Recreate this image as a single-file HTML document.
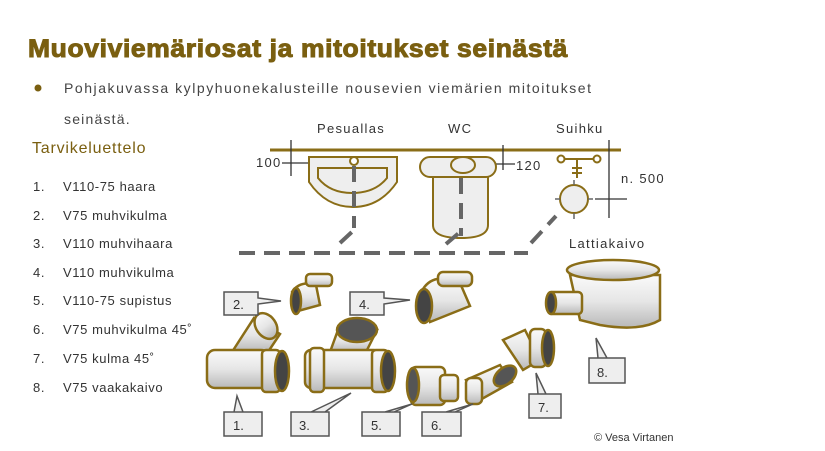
<!DOCTYPE html>
<html><head><meta charset="utf-8"><style>
body{margin:0;background:#fff;}
svg{display:block;font-family:"Liberation Sans",sans-serif;}
</style></head><body>
<svg width="825" height="451" viewBox="0 0 825 451" xmlns="http://www.w3.org/2000/svg">
<defs>
<linearGradient id="pg" x1="0" y1="0" x2="0" y2="1"><stop offset="0" stop-color="#fafafa"/><stop offset="0.5" stop-color="#e6e6e6"/><stop offset="1" stop-color="#b8b8b8"/></linearGradient>
</defs>
<text x="28" y="57" font-size="25" letter-spacing="0.6" font-weight="bold" fill="#7a5f10" stroke="#7a5f10" stroke-width="1" textLength="540" lengthAdjust="spacingAndGlyphs">Muoviviemäriosat ja mitoitukset seinästä</text>
<circle cx="38" cy="88" r="3.5" fill="#7a5f10"/>
<g font-size="14" fill="#444">
<text x="64" y="93" textLength="527" lengthAdjust="spacing">Pohjakuvassa kylpyhuonekalusteille nousevien viemärien mitoitukset</text>
<text x="64" y="124" letter-spacing="1.2">seinästä.</text>
</g>
<text x="32" y="153" font-size="16" fill="#7a5f10" letter-spacing="0.8">Tarvikeluettelo</text>
<g font-size="13" fill="#333" letter-spacing="0.6">
<text x="33" y="191">1.</text><text x="63" y="191">V110-75 haara</text>
<text x="33" y="220">2.</text><text x="63" y="220">V75 muhvikulma</text>
<text x="33" y="248">3.</text><text x="63" y="248">V110 muhvihaara</text>
<text x="33" y="277">4.</text><text x="63" y="277">V110 muhvikulma</text>
<text x="33" y="305">5.</text><text x="63" y="305">V110-75 supistus</text>
<text x="33" y="334">6.</text><text x="63" y="334">V75 muhvikulma 45˚</text>
<text x="33" y="363">7.</text><text x="63" y="363">V75 kulma 45˚</text>
<text x="33" y="392">8.</text><text x="63" y="392">V75 vaakakaivo</text>
</g>
<!-- plan -->
<g font-size="13" fill="#333" letter-spacing="1.3">
<text x="317" y="133">Pesuallas</text><text x="448" y="133">WC</text><text x="556" y="133">Suihku</text>
<text x="256" y="167">100</text><text x="516" y="170">120</text><text x="621" y="183">n. 500</text>
<text x="569" y="248">Lattiakaivo</text>
</g>
<line x1="270" y1="150" x2="621" y2="150" stroke="#8a6d17" stroke-width="3"/>
<g stroke="#333" stroke-width="1.3" fill="none">
<line x1="291" y1="140" x2="291" y2="176"/><line x1="282" y1="163" x2="335" y2="163"/>
<line x1="503" y1="145" x2="503" y2="170"/><line x1="465" y1="164" x2="515" y2="164"/>
<line x1="609" y1="140" x2="609" y2="218"/><line x1="595" y1="199" x2="627" y2="199"/>
</g>
<g fill="#eee" stroke="#8a6d17" stroke-width="2">
<path d="M309 157 H397 V182 Q380 207 353 207 Q326 207 309 182 Z"/>
<path d="M318 168 H387 V178 Q375 193 352 193 Q330 193 318 178 Z"/>
<circle cx="354" cy="161" r="4" fill="#fff"/>
<path d="M433 175 H488 V225 Q488 238 461 238 Q433 238 433 225 Z"/>
<rect x="420" y="157" width="76" height="20" rx="10"/>
<ellipse cx="463" cy="165" rx="12" ry="8"/>
<circle cx="574" cy="199" r="14"/>
<circle cx="561" cy="159" r="3.5" fill="#fff"/><circle cx="597" cy="159" r="3.5" fill="#fff"/>
</g>
<g stroke="#8a6d17" stroke-width="2"><line x1="565" y1="159" x2="593" y2="159"/><line x1="577" y1="159" x2="577" y2="178"/><line x1="572" y1="168" x2="582" y2="168"/><line x1="572" y1="173" x2="582" y2="173"/></g>
<g stroke="#666" stroke-width="1.5"><line x1="574" y1="180" x2="574" y2="185"/><line x1="574" y1="213" x2="574" y2="219"/><line x1="555" y1="199" x2="560" y2="199"/><line x1="588" y1="199" x2="593" y2="199"/></g>
<g stroke="#666" stroke-width="4" fill="none" stroke-dasharray="16,9">
<line x1="354" y1="166" x2="354" y2="228"/>
<line x1="461" y1="178" x2="461" y2="236"/>
<line x1="239" y1="253" x2="528" y2="253"/>
<line x1="340" y1="243" x2="354" y2="230"/>
<line x1="446" y1="244" x2="460" y2="232"/>
<line x1="531" y1="243" x2="556" y2="216"/>
</g>
<!-- fittings -->
<g fill="url(#pg)" stroke="#8a6d17" stroke-width="2.5">
<!-- 1 -->
<path d="M232 352 L254 318 L280 334 L268 352 Z"/>
<ellipse cx="266" cy="326" rx="10" ry="14" transform="rotate(-35 266 326)"/>
<rect x="207" y="350" width="62" height="38" rx="8"/>
<rect x="262" y="350" width="18" height="42" rx="4"/>
<ellipse cx="282" cy="371" rx="7" ry="20" fill="#444"/>
<!-- 3 -->
<path d="M330 352 L338 330 L377 330 L366 352 Z"/>
<ellipse cx="357" cy="330" rx="20" ry="12" fill="#555"/>
<rect x="305" y="350" width="75" height="38" rx="6"/>
<rect x="310" y="348" width="14" height="44" rx="4"/>
<rect x="372" y="350" width="16" height="42" rx="4"/>
<ellipse cx="388" cy="371" rx="7" ry="20" fill="#444"/>
<!-- 2 -->
<path d="M292 292 Q300 280 316 285 L320 305 L298 311 Z"/>
<ellipse cx="296" cy="301" rx="5" ry="13" fill="#444"/>
<rect x="306" y="274" width="26" height="12" rx="4"/>
<!-- 4 -->
<path d="M420 295 Q430 270 460 283 L470 306 L430 322 Z"/>
<rect x="438" y="272" width="34" height="14" rx="5"/>
<ellipse cx="424" cy="306" rx="8" ry="17" fill="#444"/>
<!-- 5 -->
<rect x="411" y="367" width="34" height="38" rx="5"/>
<rect x="440" y="375" width="18" height="26" rx="4"/>
<ellipse cx="413" cy="385" rx="6" ry="17" fill="#555"/>
<!-- 6 -->
<path d="M466 380 L500 365 L512 382 L480 400 Z"/>
<rect x="466" y="378" width="16" height="26" rx="5"/>
<ellipse cx="505" cy="376" rx="13" ry="8" transform="rotate(-40 505 376)" fill="#555"/>
<!-- 7 -->
<path d="M503 340 L525 330 L540 360 L523 370 Z"/>
<rect x="530" y="329" width="16" height="38" rx="5"/>
<ellipse cx="548" cy="348" rx="6" ry="18" fill="#444"/>
<!-- 8 -->
<path d="M570 275 L660 275 L660 320 Q640 332 600 325 L580 320 Z"/>
<ellipse cx="613" cy="270" rx="46" ry="10"/>
<rect x="548" y="292" width="34" height="22" rx="4"/>
<ellipse cx="551" cy="303" rx="5" ry="11" fill="#444"/>
</g>
<!-- callouts -->
<g fill="#eee" stroke="#555" stroke-width="1.5">
<path d="M224 292 H258 V298 L281 301 L258 304 V315 H224 Z"/>
<path d="M350 292 H384 V298 L410 300 L384 304 V315 H350 Z"/>
<path d="M224 412 H262 V436 H224 V412 Z M234 412 L237 396 L243 412"/>
<path d="M291 412 H329 V436 H291 Z M311 412 L351 393 L325 412"/>
<path d="M362 412 H400 V436 H362 Z M385 412 L412 404 L394 412"/>
<path d="M422 412 H461 V436 H422 Z M446 412 L473 404 L455 412"/>
<path d="M529 394 H561 V418 H529 Z M538 394 L536 373 L546 394"/>
<path d="M589 358 H625 V383 H589 Z M598 358 L596 338 L607 358"/>
</g>
<g stroke="#eee" stroke-width="2"><line x1="259" y1="299" x2="259" y2="303"/><line x1="385" y1="299" x2="385" y2="303"/></g>
<g font-size="13" fill="#333">
<text x="233" y="309">2.</text><text x="359" y="309">4.</text>
<text x="233" y="430">1.</text><text x="299" y="430">3.</text><text x="371" y="430">5.</text><text x="431" y="430">6.</text><text x="538" y="412">7.</text><text x="597" y="377">8.</text>
</g>
<text x="594" y="441" font-size="11" fill="#333">© Vesa Virtanen</text>
</svg>
</body></html>
